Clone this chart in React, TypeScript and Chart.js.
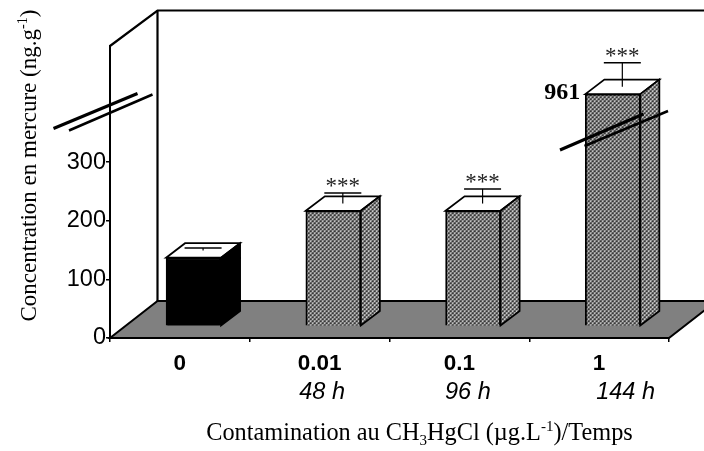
import React, { useEffect, useRef } from "react";
import { Chart, registerables } from "chart.js";

Chart.register(...registerables);

const categories = ["0", "0.01", "0.1", "1"];
const durations = ["", "48 h", "96 h", "144 h"];
const values = [117, 197, 197, 396];
const errors = [4, 18, 25, 41];
const stars = ["", "***", "***", "***"];
const barLabels = ["", "", "", "961"];
const yTicks = [0, 100, 200, 300];

const SANS = '"Liberation Sans", Arial, sans-serif';
const SERIF = '"Liberation Serif", "Times New Roman", serif';

type Run = { t: string; shift?: number };

function drawRuns(ctx: CanvasRenderingContext2D, runs: Run[], size: number) {
  let total = 0;
  for (const r of runs) {
    ctx.font = `${r.shift ? size * 0.62 : size}px ${SERIF}`;
    total += ctx.measureText(r.t).width;
  }
  let x = -total / 2;
  ctx.textAlign = "left";
  ctx.textBaseline = "alphabetic";
  for (const r of runs) {
    ctx.font = `${r.shift ? size * 0.62 : size}px ${SERIF}`;
    ctx.fillText(r.t, x, r.shift || 0);
    x += ctx.measureText(r.t).width;
  }
}

function makePattern(ctx: CanvasRenderingContext2D, dark: string, light: string) {
  const c = document.createElement("canvas");
  c.width = 4;
  c.height = 4;
  const p = c.getContext("2d")!;
  p.fillStyle = dark;
  p.fillRect(0, 0, 4, 4);
  p.fillStyle = light;
  p.fillRect(0, 0, 2, 2);
  p.fillRect(2, 2, 2, 2);
  p.fillStyle = "#808080";
  p.fillRect(1, 1, 1, 1);
  p.fillRect(3, 3, 1, 1);
  return ctx.createPattern(c, "repeat")!;
}

const DEPTH_X = 47.5;
const DEPTH_Y = 37;
const BAR_DX = 13.7;
const BAR_DY = 11.7;
const SIDE_X = 19;
const SIDE_Y = 14.5;

function line(ctx: CanvasRenderingContext2D, pts: number[], w: number, color = "#000") {
  ctx.beginPath();
  ctx.moveTo(pts[0], pts[1]);
  for (let i = 2; i < pts.length; i += 2) ctx.lineTo(pts[i], pts[i + 1]);
  ctx.strokeStyle = color;
  ctx.lineWidth = w;
  ctx.stroke();
}

function poly(ctx: CanvasRenderingContext2D, pts: number[], fill: any, w = 1.8) {
  ctx.beginPath();
  ctx.moveTo(pts[0], pts[1]);
  for (let i = 2; i < pts.length; i += 2) ctx.lineTo(pts[i], pts[i + 1]);
  ctx.closePath();
  ctx.fillStyle = fill;
  ctx.fill();
  ctx.lineJoin = "miter";
  ctx.strokeStyle = "#000";
  ctx.lineWidth = w;
  ctx.stroke();
}

const scene = {
  id: "scene",
  beforeDraw(chart: any) {
    const { ctx, chartArea: a } = chart;
    ctx.save();
    ctx.fillStyle = "#fff";
    ctx.fillRect(0, 0, chart.width, chart.height);
    poly(
      ctx,
      [a.left, a.bottom, a.left + DEPTH_X, a.bottom - DEPTH_Y, a.right + DEPTH_X, a.bottom - DEPTH_Y, a.right, a.bottom],
      "#808080",
      2
    );
    line(ctx, [a.left, a.top, a.left + DEPTH_X, 10.5, chart.width + 5, 10.5], 2.2);
    line(ctx, [a.left + DEPTH_X, 10.5, a.left + DEPTH_X, a.bottom - DEPTH_Y], 2.2);
    ctx.restore();
  },
  beforeDatasetsDraw(chart: any) {
    const { ctx } = chart;
    const side = chart.$sidePattern;
    const bars = chart.getDatasetMeta(0).data;
    ctx.save();
    ctx.translate(BAR_DX, -BAR_DY);
    bars.forEach((b: any, i: number) => {
      const l = b.x - b.width / 2;
      const r = b.x + b.width / 2;
      poly(ctx, [l, b.y, l + SIDE_X, b.y - SIDE_Y, r + SIDE_X, b.y - SIDE_Y, r, b.y], "#fff");
      poly(
        ctx,
        [r, b.y, r + SIDE_X, b.y - SIDE_Y, r + SIDE_X, b.base - SIDE_Y, r, b.base],
        i === 0 ? "#000" : side
      );
    });
  },
  afterDatasetsDraw(chart: any) {
    const { ctx } = chart;
    ctx.restore();
    const y = chart.scales.y;
    const bars = chart.getDatasetMeta(0).data;
    ctx.save();
    bars.forEach((b: any, i: number) => {
      const cx = b.x + BAR_DX + SIDE_X / 2;
      const low = y.getPixelForValue(values[i]) - BAR_DY - SIDE_Y / 2;
      const high = y.getPixelForValue(values[i] + errors[i]) - BAR_DY - SIDE_Y / 2;
      line(ctx, [cx, low, cx, high], 1.2);
      line(ctx, [cx - 18.5, high, cx + 18.5, high], 1.5);
      ctx.fillStyle = "#222";
      ctx.font = `23px ${SERIF}`;
      ctx.textAlign = "center";
      ctx.textBaseline = "alphabetic";
      if (stars[i]) ctx.fillText(stars[i], cx, high + 0.5);
      if (barLabels[i]) {
        ctx.fillStyle = "#000";
        ctx.font = `bold 24px ${SERIF}`;
        ctx.textAlign = "right";
        ctx.fillText(barLabels[i], b.x + BAR_DX - b.width / 2 - 5, b.y - BAR_DY + 5);
      }
    });

    // axis breaks
    line(ctx, [53.5, 128.5, 137.5, 93.5], 3);
    line(ctx, [69, 130.5, 152.5, 94.5], 2.5);
    line(ctx, [560, 150, 643.5, 114], 3);
    line(ctx, [584.5, 146, 668, 111], 2.5);

    // second line of the category labels
    const shifts = [0, 2.5, 8.5, 26.5];
    const x = chart.scales.x;
    ctx.fillStyle = "#000";
    ctx.font = `italic 23.5px ${SANS}`;
    ctx.textAlign = "center";
    ctx.textBaseline = "middle";
    durations.forEach((d, i) => {
      if (d) ctx.fillText(d, x.getPixelForValue(i) + shifts[i], 392);
    });

    // axis titles
    ctx.fillStyle = "#000";
    ctx.save();
    ctx.translate(419.5, 440);
    drawRuns(
      ctx,
      [
        { t: "Contamination au CH" },
        { t: "3", shift: 5 },
        { t: "HgCl (µg.L" },
        { t: "-1", shift: -9 },
        { t: ")/Temps" },
      ],
      24.3
    );
    ctx.restore();
    ctx.save();
    ctx.translate(36, 165.5);
    ctx.rotate(-Math.PI / 2);
    drawRuns(
      ctx,
      [{ t: "Concentration en mercure (ng.g" }, { t: "-1", shift: -9 }, { t: ")" }],
      23
    );
    ctx.restore();
    ctx.restore();
  },
};

export default function App() {
  const ref = useRef<HTMLCanvasElement>(null);
  useEffect(() => {
    const ctx = ref.current!.getContext("2d")!;
    const front = makePattern(ctx, "#363636", "#d0d0d0");
    const side = makePattern(ctx, "#363636", "#dcdcdc");
    const chart: any = new Chart(ctx, {
      type: "bar",
      data: {
        labels: categories,
        datasets: [
          {
            data: values,
            backgroundColor: ["#000", front, front, front],
            borderColor: "#000",
            borderWidth: 1.8,
            barThickness: 55,
            clip: false,
          } as any,
        ],
      },
      plugins: [scene],
      options: {
        responsive: false,
        animation: false,
        devicePixelRatio: 1,
        layout: { padding: { top: 46, right: 35, left: 0, bottom: 0 } },
        plugins: { legend: { display: false }, tooltip: { enabled: false } },
        scales: {
          x: {
            grid: { drawOnChartArea: false, drawTicks: true, tickLength: 4, color: "#000", lineWidth: 1.5 },
            border: { color: "#000", width: 2 },
            ticks: {
              color: "#000",
              font: { family: SANS, size: 22.5, weight: "bold" },
              padding: 8,
              maxRotation: 0,
            },
            afterFit(s: any) {
              s.height = 451 - 338;
            },
          },
          y: {
            min: 0,
            max: 498,
            afterBuildTicks(s: any) {
              s.ticks = yTicks.map((value) => ({ value }));
            },
            grid: { drawOnChartArea: false, drawTicks: true, tickLength: 4, color: "#000", lineWidth: 1.5 },
            border: { color: "#000", width: 2 },
            ticks: {
              color: "#000",
              font: { family: SANS, size: 23.5 },
              padding: 0,
            },
            afterFit(s: any) {
              s.width = 110;
            },
          },
        },
      } as any,
    });
    chart.$sidePattern = side;
    chart.draw();
    return () => chart.destroy();
  }, []);
  return (
    <div style={{ position: "absolute", left: 0, top: 0 }}>
      <canvas ref={ref} width={704} height={451} style={{ display: "block" }} />
    </div>
  );
}
